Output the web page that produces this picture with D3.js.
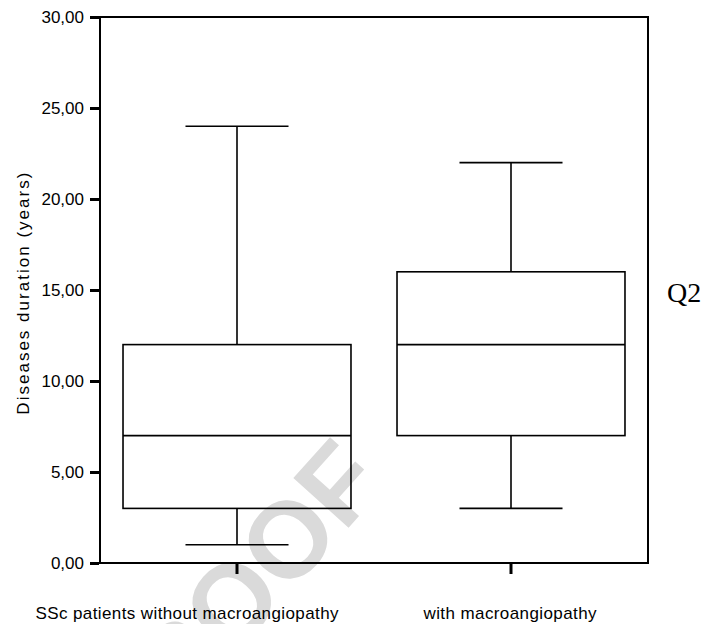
<!DOCTYPE html>
<html>
<head>
<meta charset="utf-8">
<title>Diseases duration box plot</title>
<style>
  body { margin: 0; background: #fff; }
  svg { display: block; }
  .lbl { font-family: "Liberation Sans", Arial, sans-serif; font-size: 17px; fill: #000; }
</style>
</head>
<body>
<div id="chart"></div>
<script src="https://cdn.jsdelivr.net/npm/d3@7"></script>
<script>
(function(d3) {
  'use strict';

  // data
  var groups = ['SSc patients without macroangiopathy', 'with macroangiopathy'];
  var mins    = [1, 3];
  var q1s     = [3, 7];
  var medians = [7, 12];
  var q3s     = [12, 16];
  var maxs    = [24, 22];
  var yTicks  = [0, 5, 10, 15, 20, 25, 30];
  var yTitle  = 'Diseases duration (years)';

  var width = 719, height = 624;
  var left = 100, right = 648, top = 17, bottom = 563;

  var svg = d3.select('#chart').append('svg')
    .attr('width', width)
    .attr('height', height);

  var x = d3.scaleBand().domain(groups).range([left, right]).padding(0);
  var y = d3.scaleLinear().domain([0, 30]).range([bottom, top]);

  var comma = d3.formatLocale({decimal: ',', thousands: '.', grouping: [3], currency: ['', '']}).format('.2f');

  // watermark behind everything
  svg.append('text')
    .attr('transform', 'translate(388,484) rotate(-48)')
    .attr('text-anchor', 'end')
    .style('font-family', '"Liberation Sans", Arial, sans-serif')
    .style('font-weight', 'bold')
    .style('font-size', '108px')
    .style('fill', '#dadada')
    .text('PROOF');

  // frame
  svg.append('rect')
    .attr('x', left).attr('y', top)
    .attr('width', right - left).attr('height', bottom - top)
    .attr('fill', 'none').attr('stroke', '#000').attr('stroke-width', 2);

  // y axis
  var yAxis = svg.append('g')
    .attr('transform', 'translate(' + (left - 1) + ',0)')
    .call(d3.axisLeft(y).tickValues(yTicks).tickFormat(comma).tickSizeInner(9).tickSizeOuter(0).tickPadding(6));
  yAxis.select('.domain').remove();
  yAxis.selectAll('line').attr('stroke-width', 3);
  yAxis.selectAll('text').attr('class', 'lbl').attr('font-size', null).attr('font-family', null);

  // x axis
  var xAxis = svg.append('g')
    .attr('transform', 'translate(0,' + (bottom + 1) + ')')
    .call(d3.axisBottom(x).tickSizeInner(10).tickSizeOuter(0).tickPadding(33));
  xAxis.select('.domain').remove();
  xAxis.selectAll('line').attr('stroke-width', 3);
  xAxis.selectAll('text').attr('class', 'lbl').attr('font-size', null).attr('font-family', null)
    .attr('textLength', function(d, i) { return i === 0 ? 303 : 173; })
    .attr('dx', function(d, i) { return i === 0 ? -50 : -1; });

  // y title
  svg.append('text')
    .attr('class', 'lbl')
    .attr('transform', 'translate(29,' + y(14.8) + ') rotate(-90)')
    .attr('text-anchor', 'middle')
    .attr('textLength', 242)
    .text(yTitle);

  // boxes
  var data = groups.map(function(g, i) {
    return {g: g, min: mins[i], q1: q1s[i], med: medians[i], q3: q3s[i], max: maxs[i]};
  });
  var bw = x.bandwidth() * 0.832;
  var cw = x.bandwidth() * 0.376;

  var box = svg.selectAll('.box').data(data).enter().append('g')
    .attr('class', 'box')
    .attr('transform', function(d) { return 'translate(' + (x(d.g) + x.bandwidth() / 2) + ',0)'; })
    .attr('stroke', '#000').attr('stroke-width', 1.6).attr('fill', 'none');

  box.append('line').attr('x1', 0).attr('x2', 0)
    .attr('y1', function(d) { return y(d.max); }).attr('y2', function(d) { return y(d.q3); });
  box.append('line').attr('x1', 0).attr('x2', 0)
    .attr('y1', function(d) { return y(d.q1); }).attr('y2', function(d) { return y(d.min); });
  box.append('line').attr('x1', -cw / 2).attr('x2', cw / 2)
    .attr('y1', function(d) { return y(d.max); }).attr('y2', function(d) { return y(d.max); });
  box.append('line').attr('x1', -cw / 2).attr('x2', cw / 2)
    .attr('y1', function(d) { return y(d.min); }).attr('y2', function(d) { return y(d.min); });
  box.append('rect')
    .attr('x', -bw / 2).attr('width', bw)
    .attr('y', function(d) { return y(d.q3); })
    .attr('height', function(d) { return y(d.q1) - y(d.q3); });
  box.append('line').attr('x1', -bw / 2).attr('x2', bw / 2)
    .attr('y1', function(d) { return y(d.med); }).attr('y2', function(d) { return y(d.med); });

  // page marker
  svg.append('text')
    .attr('x', 667).attr('y', 302)
    .style('font-family', '"Liberation Serif", "Times New Roman", serif')
    .style('font-size', '28px')
    .style('fill', '#000')
    .text('Q2');
})(window.d3);
</script>
</body>
</html>
